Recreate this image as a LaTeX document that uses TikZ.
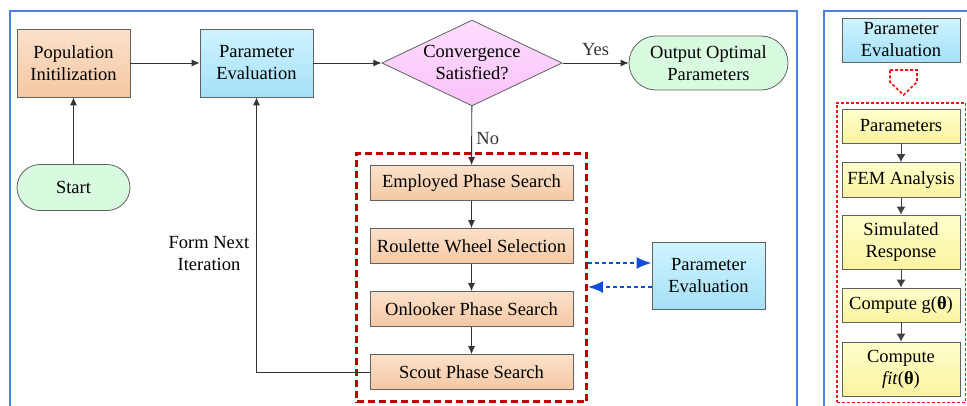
\documentclass[tikz,border=0pt]{standalone}
\usepackage{fontspec}
\setmainfont{Liberation Serif}
\usetikzlibrary{arrows.meta,shapes.geometric,fit}

\definecolor{peachtop}{HTML}{FBE1CB}
\definecolor{peachbot}{HTML}{F4C8A3}
\definecolor{skytop}{HTML}{CFF4FF}
\definecolor{skybot}{HTML}{A5E0F7}
\definecolor{pinktop}{HTML}{FFDDFF}
\definecolor{pinkbot}{HTML}{F9C2F9}
\definecolor{mint}{HTML}{D8FADF}
\definecolor{lemontop}{HTML}{FFFFCC}
\definecolor{lemonbot}{HTML}{F9F3A0}
\definecolor{framblue}{HTML}{4A80E0}
\definecolor{abcred}{HTML}{C00000}
\definecolor{femred}{HTML}{FF1010}
\definecolor{arrblue}{HTML}{0F4FD8}

\begin{document}
\begin{tikzpicture}[x=1pt,y=-1pt,font=\fontsize{18.5}{22}\selectfont,
  box/.style={draw=black!62,line width=0.8pt,align=center,inner sep=0pt},
  peach/.style={box,top color=peachtop,bottom color=peachbot},
  evalbox/.style={box,top color=skytop,bottom color=skybot},
  lemon/.style={box,top color=lemontop,bottom color=lemonbot,minimum width=118},
  phase/.style={peach,minimum width=203,minimum height=35},
  decision/.style={box,shape=diamond,aspect=2.1,inner sep=1.7pt,top color=pinktop,bottom color=pinkbot},
  terminal/.style={box,fill=mint,rounded corners=23},
  frame/.style={draw=framblue,line width=1.2pt},
  arr/.style={-{Latex[length=8,width=7]},line width=0.9pt,black!80},
  garr/.style={-{Latex[length=8,width=9]},line width=1pt,black!75},
  darr/.style={-{Latex[length=15,width=12]},line width=2pt,arrblue,dash pattern=on 4pt off 3pt}]
\useasboundingbox (0,0) rectangle (967,405);
% panels
\draw[frame] (10,11) rectangle (797,430);
\draw[frame] (824,11) rectangle (990,430);

% main loop
\node[peach,minimum width=113,minimum height=68] (pop) at (73.5,63) {Population\\Initilization};
\node[evalbox,minimum width=113,minimum height=68] (eval) at (256.5,63) {Parameter\\Evaluation};
\node[decision] (conv) at (472,63) {Convergence\\Satisfied?};
\node[terminal,rounded corners=27,minimum width=159,minimum height=54] (out) at (708.5,63) {Output Optimal\\Parameters};
\node[terminal,minimum width=113,minimum height=46] (start) at (73.5,187.5) {Start};

\node[phase] (emp) at (471.5,183) {Employed Phase Search};
\node[phase] (rws) at (471.5,246) {Roulette Wheel Selection};
\node[phase] (onl) at (471.5,309) {Onlooker Phase Search};
\node[phase] (sct) at (471.5,372) {Scout Phase Search};
\node[draw=abcred,line width=3pt,dash pattern=on 7pt off 4pt,fit=(emp)(sct),inner xsep=13,inner ysep=12] (abc) {};
\node[evalbox,minimum width=113,minimum height=67] (evalside) at (708.5,275.5) {Parameter\\Evaluation};
\node[align=center] (next) at (209,254) {Form Next\\Iteration};

\draw[arr] (start) -- (pop);
\draw[arr] (pop) -- (eval);
\draw[arr] (eval) -- (conv);
\draw[arr] (conv) -- node[above=4pt]{Yes} (out);
\draw[arr] (conv) -- node[right=1pt,pos=.55]{No} (emp);
\draw[arr] (emp) -- (rws);
\draw[arr] (rws) -- (onl);
\draw[arr] (onl) -- (sct);
\draw[arr] (sct.west) -| (eval.south);

\coordinate (hi) at ([yshift=12.5]evalside.west);
\coordinate (lo) at ([yshift=-11.5]evalside.west);
\draw[darr] (hi -| abc.east) -- (hi);
\draw[darr] (lo) -- (lo -| abc.east);

% evaluation detail
\node[evalbox,minimum width=118,minimum height=44] (evaltop) at (901,40) {Parameter\\Evaluation};
\draw[femred,line width=1.6pt,dash pattern=on 3pt off 2pt] (890,70) -- (917,70) -- (917,82) -- (903.5,95) -- (890,82) -- cycle;
\node[lemon,minimum height=34] (par) at (901,126) {Parameters};
\node[lemon,minimum height=35] (fem) at (901,180) {FEM Analysis};
\node[lemon,minimum height=54] (sim) at (901,242) {Simulated\\Response};
\node[lemon,minimum height=34] (gth) at (901,305) {Compute g(\textbf{θ})};
\node[lemon,minimum height=54] (fitth) at (901,369) {Compute\\\textit{fit}(\textbf{θ})};
\node[draw=femred,line width=1.8pt,dash pattern=on 3pt off 2pt,fit=(par)(fitth),inner xsep=5,inner ysep=6] (fembox) {};
\foreach \a/\b in {par/fem,fem/sim,sim/gth,gth/fitth}
  \draw[garr] (\a) -- (\b);
\end{tikzpicture}
\end{document}
